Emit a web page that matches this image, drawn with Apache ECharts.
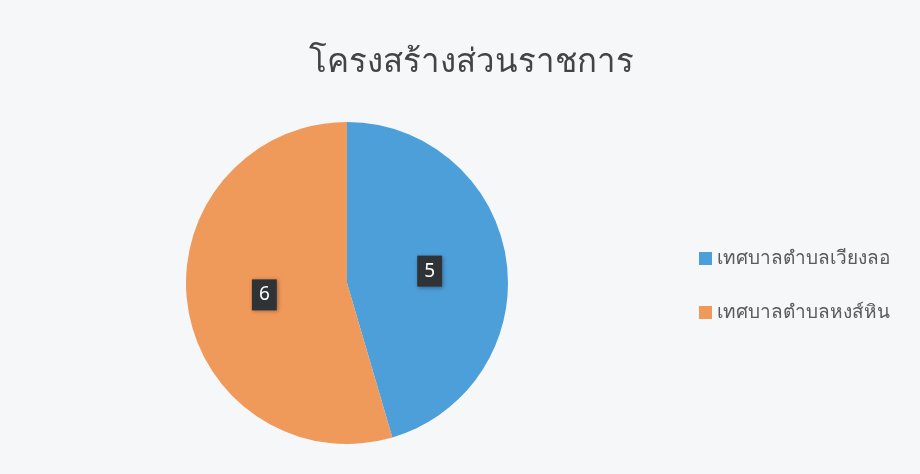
<!DOCTYPE html>
<html>
<head>
<meta charset="utf-8">
<script src="https://cdn.jsdelivr.net/npm/echarts@6/dist/echarts.min.js"></script>
<style>
  html, body { margin: 0; padding: 0; background: #eceef0; }
  #chart { width: 920px; height: 474px; }
</style>
</head>
<body>
<div id="chart"></div>
<script>
// Organisation structure: staff count per municipality
const titleText = 'โครงสร้างส่วนราชการ';
const categories = ['เทศบาลตำบลเวียงลอ', 'เทศบาลตำบลหงส์หิน'];
const values = [5, 6];
const colors = ['#4d9fda', '#ef995b'];

const chart = echarts.init(document.getElementById('chart'));
chart.setOption({
  backgroundColor: '#f6f7f9',
  title: {
    text: titleText,
    left: 466,
    top: 41,
    textAlign: 'center',
    textStyle: { fontSize: 33, fontWeight: 'normal', color: '#444', fontFamily: 'Noto Sans, sans-serif' }
  },
  legend: {
    orient: 'vertical',
    left: 694,
    top: 244,
    itemWidth: 13,
    itemHeight: 13,
    itemGap: 35,
    icon: 'rect',
    textStyle: { fontSize: 19, color: '#5a5a5a', fontFamily: 'Noto Sans, sans-serif' },
    data: categories
  },
  series: [{
    type: 'pie',
    center: [347, 283],
    radius: 161,
    startAngle: 90,
    clockwise: true,
    animation: false,
    itemStyle: { borderWidth: 0 },
    label: {
      show: true,
      position: 'inside',
      formatter: '{c}',
      color: '#fff',
      fontSize: 19,
      fontFamily: 'Noto Sans, sans-serif',
      backgroundColor: '#2f3336',
      padding: [6, 7],
      shadowColor: 'rgba(0,0,0,0.35)',
      shadowBlur: 4,
      shadowOffsetX: 1,
      shadowOffsetY: 1
    },
    labelLine: { show: false },
    emphasis: { disabled: true },
    data: categories.map((name, i) => ({ name, value: values[i], itemStyle: { color: colors[i] } }))
  }]
});
</script>
</body>
</html>
